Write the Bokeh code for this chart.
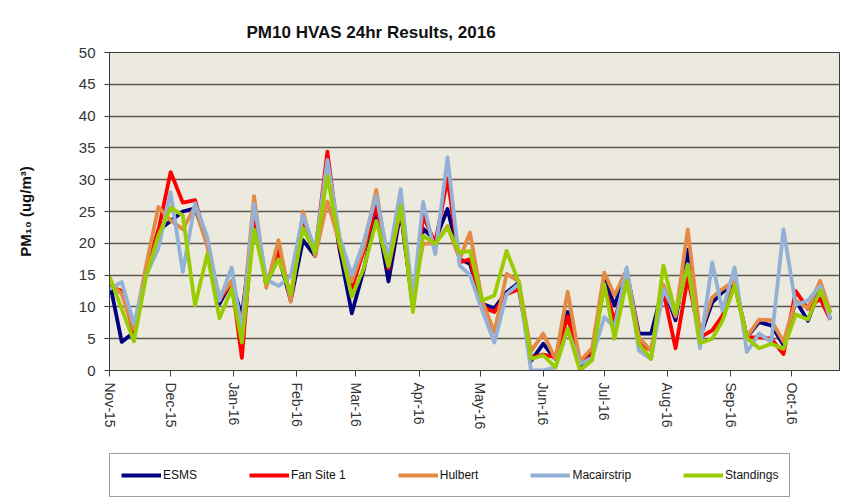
import pandas as pd
from bokeh.plotting import figure
from bokeh.layouts import column
from bokeh.models import Legend, LegendItem, FixedTicker, Range1d, DatetimeTickFormatter
from bokeh.embed import file_html
from bokeh.resources import INLINE

# ---------------- data ----------------
sample_dates = [
    "2015-11-01", "2015-11-07", "2015-11-13", "2015-11-19", "2015-11-25",
    "2015-12-01", "2015-12-07", "2015-12-13", "2015-12-19", "2015-12-25",
    "2015-12-31", "2016-01-05", "2016-01-11", "2016-01-17", "2016-01-23",
    "2016-01-29", "2016-02-04", "2016-02-10", "2016-02-16", "2016-02-22",
    "2016-02-28", "2016-03-05", "2016-03-11", "2016-03-17", "2016-03-23",
    "2016-03-29", "2016-04-03", "2016-04-09", "2016-04-15", "2016-04-21",
    "2016-04-26", "2016-05-02", "2016-05-08", "2016-05-14", "2016-05-20",
    "2016-05-26", "2016-06-01", "2016-06-07", "2016-06-13", "2016-06-19",
    "2016-06-25", "2016-07-01", "2016-07-06", "2016-07-12", "2016-07-18",
    "2016-07-24", "2016-07-30", "2016-08-05", "2016-08-11", "2016-08-17",
    "2016-08-23", "2016-08-28", "2016-09-03", "2016-09-09", "2016-09-15",
    "2016-09-21", "2016-09-27", "2016-10-03", "2016-10-09", "2016-10-15",
    "2016-10-20",
]

esms = [14, 4.5, 6, 15.5, 22, 23.5, 25, 25.5, 20, 10.5,
        14, 8.5, 24, 13.5, 18, 11, 20.5, 18, 32, 19,
        9, 16, 25, 14, 25, 10, 22.3, 20.5, 25.4, 17.5,
        16.8, 10.5, 9.8, 12.3, 13.8, 1.5, 4.2, 1.8, 9.2, 0.8,
        2.5, 14.6, 10.2, 15.5, 5.8, 5.8, 13.2, 7.9, 19, 5.3,
        10.7, 12.3, 13.8, 5.2, 7.6, 7.1, 4, 11, 7.8, 13, 8]

fan_site_1 = [13.3, 12.5, 6, 16, 22, 31.2, 26.4, 26.8, 20, 11,
              14, 2, 25, 13.5, 19, 11.5, 23, 18.5, 34.4, 19.5,
              13, 19, 26, 16, 25.5, 10.5, 24.3, 20, 30.2, 17,
              17.5, 10, 9.2, 12, 12.8, 2, 2.5, 2.1, 8.5, 1.3,
              3, 13.3, 7.8, 14.9, 4.2, 3.2, 12.4, 3.5, 14.6, 5.2,
              6.3, 8.6, 13.6, 5.2, 5.2, 5, 2.6, 12.5, 9.7, 11.3, 8]

hulbert = [14, 12, 6.5, 16.5, 25.7, 23.6, 22.2, 25.8, 19.5, 11.5,
           14, 7, 27.4, 13, 20.5, 10.8, 25, 18, 26.6, 20,
           14, 19.5, 28.4, 16.5, 25.5, 11.5, 19.9, 20, 22.7, 17.5,
           21.7, 11, 6, 15.2, 14, 3, 5.8, 1.8, 12.4, 1.5,
           3.5, 15.4, 11.8, 15.9, 5.2, 3.1, 13.5, 8.5, 22.2, 5.8,
           11.5, 12.8, 14.1, 5.3, 8, 7.9, 4.5, 11, 9.8, 14.1, 9.2]

macairstrip = [12.8, 13.9, 7.3, 15, 19.2, 28, 15.5, 26.3, 21, 11,
               16.2, 6, 26.2, 14.3, 13.3, 14.8, 24.4, 19, 33.1, 21,
               15, 20.4, 27.5, 17.5, 28.5, 11, 26.5, 18.3, 33.5, 16.5,
               15, 9.5, 4.4, 12, 13.6, 0, 0, 0.5, 6.5, 1,
               2, 8.4, 6.8, 16.2, 3.1, 1.8, 12.8, 9, 16.7, 3.5,
               17, 9.4, 16.2, 2.9, 5.8, 4.5, 22.2, 10.3, 11, 13.3, 8]

standings = [14.8, 9.7, 4.6, 14.8, 21.2, 25.6, 24.4, 10.2, 18.3, 8.2,
             12.8, 4.4, 22.2, 13.7, 17.5, 12, 22.4, 18.5, 30.6, 20,
             11.6, 16.2, 23.5, 16.4, 25.9, 9.2, 21.2, 19.9, 22.5, 18.5,
             18.8, 11, 11.8, 18.8, 13.9, 1.8, 2.4, 0.5, 6.6, 0,
             1.6, 13.6, 5, 14.1, 4.2, 1.8, 16.5, 9, 16.6, 4.3,
             5, 7.8, 13.4, 5.1, 3.5, 4.2, 3.4, 8.8, 8, 12.6, 9]

series_names = ["ESMS", "Fan Site 1", "Hulbert", "Macairstrip", "Standings"]
series_values = [esms, fan_site_1, hulbert, macairstrip, standings]
series_colors = ["#000080", "#FF0000", "#E38B45", "#93B1D6", "#99CC00"]

tick_dates = ["2015-11-01", "2015-12-01", "2016-01-01", "2016-02-01",
              "2016-03-01", "2016-04-01", "2016-05-01", "2016-06-01",
              "2016-07-01", "2016-08-01", "2016-09-01", "2016-10-01"]
tick_labels = ["Nov-15", "Dec-15", "Jan-16", "Feb-16", "Mar-16", "Apr-16",
               "May-16", "Jun-16", "Jul-16", "Aug-16", "Sep-16", "Oct-16"]

x_start = "2015-11-01"
x_end = "2016-10-24 12:00"

# ---------------- main figure ----------------
x = pd.to_datetime(sample_dates)

p = figure(width=850, height=434, x_axis_type="datetime",
           output_backend="svg", toolbar_location=None,
           x_range=Range1d(pd.Timestamp(x_start), pd.Timestamp(x_end)),
           y_range=Range1d(0, 50),
           min_border_left=109, min_border_right=11,
           min_border_top=52, min_border_bottom=64)

p.background_fill_color = "#ECE9DF"
p.border_fill_color = "white"
p.outline_line_color = "#3c3c3c"
p.outline_line_width = 1

# title
p.title.text = "PM10 HVAS 24hr Results, 2016"
p.title.align = "left"
p.title.offset = 137
p.title.text_font = "Liberation Sans"
p.title.text_font_size = "17px"
p.title.text_font_style = "bold"
p.title.text_color = "#111111"
p.title.standoff = 22

# grid
p.xgrid.visible = False
p.ygrid.grid_line_color = "#5c5a50"
p.ygrid.grid_line_width = 1.6

# y axis
p.yaxis.ticker = FixedTicker(ticks=list(range(0, 51, 5)))
p.yaxis.axis_label = "PM\u2081\u2080 (ug/m\u00b3)"
p.yaxis.axis_label_text_font = "Liberation Sans"
p.yaxis.axis_label_text_font_size = "15px"
p.yaxis.axis_label_text_font_style = "bold"
p.yaxis.axis_label_text_color = "#111111"
p.yaxis.axis_label_standoff = 42
p.yaxis.major_label_text_font = "Liberation Sans"
p.yaxis.major_label_text_font_size = "15px"
p.yaxis.major_label_text_color = "#333333"
p.yaxis.major_label_standoff = 9
p.yaxis.major_tick_in = 0
p.yaxis.major_tick_out = 5
p.yaxis.minor_tick_line_color = None
p.yaxis.axis_line_color = "#3c3c3c"
p.yaxis.major_tick_line_color = "#3c3c3c"

# x axis
tick_ms = [pd.Timestamp(d).value // 10**6 for d in tick_dates]
p.xaxis.ticker = FixedTicker(ticks=tick_ms)
p.xaxis.formatter = DatetimeTickFormatter(
    months="%b-%y", days="%b-%y", hours="%b-%y", years="%b-%y",
    minutes="%b-%y", seconds="%b-%y", milliseconds="%b-%y",
    microseconds="%b-%y", hourmin="%b-%y", minsec="%b-%y")
p.xaxis.major_label_overrides = {int(t): lab for t, lab in zip(tick_ms, tick_labels)}
p.xaxis.major_label_orientation = "vertical"
p.xaxis.major_label_text_font = "Liberation Sans"
p.xaxis.major_label_text_font_size = "14px"
p.xaxis.major_label_text_color = "#333333"
p.xaxis.major_label_standoff = 6
p.xaxis.major_tick_in = 0
p.xaxis.major_tick_out = 6
p.xaxis.minor_tick_line_color = None
p.xaxis.axis_line_color = "#3c3c3c"
p.xaxis.major_tick_line_color = "#3c3c3c"

for name, vals, col in zip(series_names, series_values, series_colors):
    p.line(x, vals, line_color=col, line_width=3.8, line_join="round")

# ---------------- legend strip ----------------
lg = figure(width=850, height=66, output_backend="svg", toolbar_location=None,
            x_axis_location=None, y_axis_location=None,
            x_range=Range1d(0, 1), y_range=Range1d(0, 1),
            min_border_left=0, min_border_right=0,
            min_border_top=0, min_border_bottom=0)
lg.grid.visible = False
lg.outline_line_color = None
lg.background_fill_color = "white"
lg.border_fill_color = "white"

items = []
for name, col in zip(series_names, series_colors):
    # legend-only swatch: a line that lies outside the visible range
    r = lg.line([5, 6], [5, 5], line_color=col, line_width=3.8)
    items.append(LegendItem(label=name, renderers=[r]))

legend = Legend(items=items, orientation="horizontal",
                location=(0, 3),
                label_text_font="Liberation Sans",
                label_text_font_size="12px",
                label_text_color="#111111",
                glyph_width=40, glyph_height=14, label_height=20,
                label_standoff=2, spacing=52,
                padding=11, margin=0,
                border_line_color="#3c3c3c", border_line_width=1,
                background_fill_color="white", background_fill_alpha=1)
lg.add_layout(legend, "center")

layout = column(p, lg, spacing=0)
open("out.html", "w").write(file_html(layout, INLINE))
